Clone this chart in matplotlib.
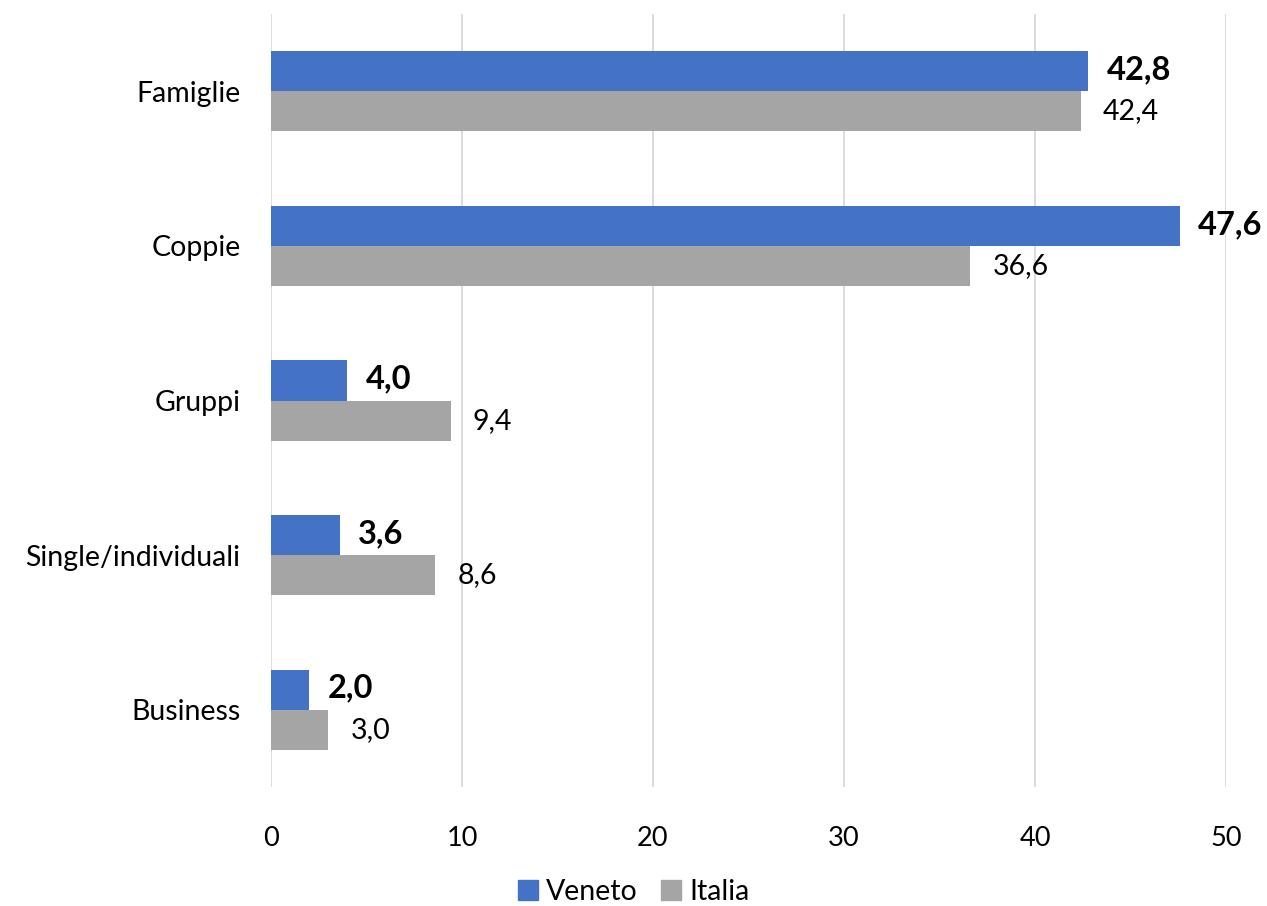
import numpy as np
import matplotlib.pyplot as plt
from matplotlib.patches import Patch

# data
categorie = ["Famiglie", "Coppie", "Gruppi", "Single/individuali", "Business"]
veneto = [42.8, 47.6, 4.0, 3.6, 2.0]
italia = [42.4, 36.6, 9.4, 8.6, 3.0]
serie = ["Veneto", "Italia"]

blu = "#4472C4"
grigio = "#A5A5A5"

plt.rcParams['font.family'] = ['Lato', 'DejaVu Sans']

fig = plt.figure(figsize=(12.67, 9.06), dpi=100)
ax = fig.add_axes([271 / 1267, 1 - 787 / 906, (1226 - 271) / 1267, (787 - 14) / 906])

y = np.arange(len(categorie))
h = 0.26
ax.barh(y - h / 2, veneto, height=h, color=blu, zorder=3)
ax.barh(y + h / 2, italia, height=h, color=grigio, zorder=3)

def fmt(v):
    return f"{v:.1f}".replace(".", ",")

for i in range(len(categorie)):
    ax.annotate(fmt(veneto[i]), (veneto[i], y[i] - h / 2), xytext=(13, 1),
                textcoords="offset points", va="center", ha="left",
                fontsize=23.5, fontweight="bold")
    ax.annotate(fmt(italia[i]), (italia[i], y[i] + h / 2), xytext=(16, 0),
                textcoords="offset points", va="center", ha="left",
                fontsize=20.5)

ax.set_xlim(0, 50)
ax.set_ylim(len(categorie) - 0.5, -0.5)
ax.set_xticks(range(0, 51, 10))
ax.set_yticks(y)
ax.set_yticklabels(categorie, fontsize=20.5)
ax.tick_params(axis="x", length=0, labelsize=19.5, pad=28)
ax.tick_params(axis="y", length=0, pad=22)
ax.grid(axis="x", color="#D9D9D9", linewidth=1.3, zorder=0)
for s in ax.spines.values():
    s.set_visible(False)

handles = [Patch(color=blu), Patch(color=grigio)]
fig.legend(handles, serie, loc="center", bbox_to_anchor=(0.5, 1 - 892 / 906),
           ncol=2, frameon=False, fontsize=20.5, handlelength=0.7, handleheight=0.7,
           handletextpad=0.3, columnspacing=0.8)

fig.savefig("out.png", dpi=100)
